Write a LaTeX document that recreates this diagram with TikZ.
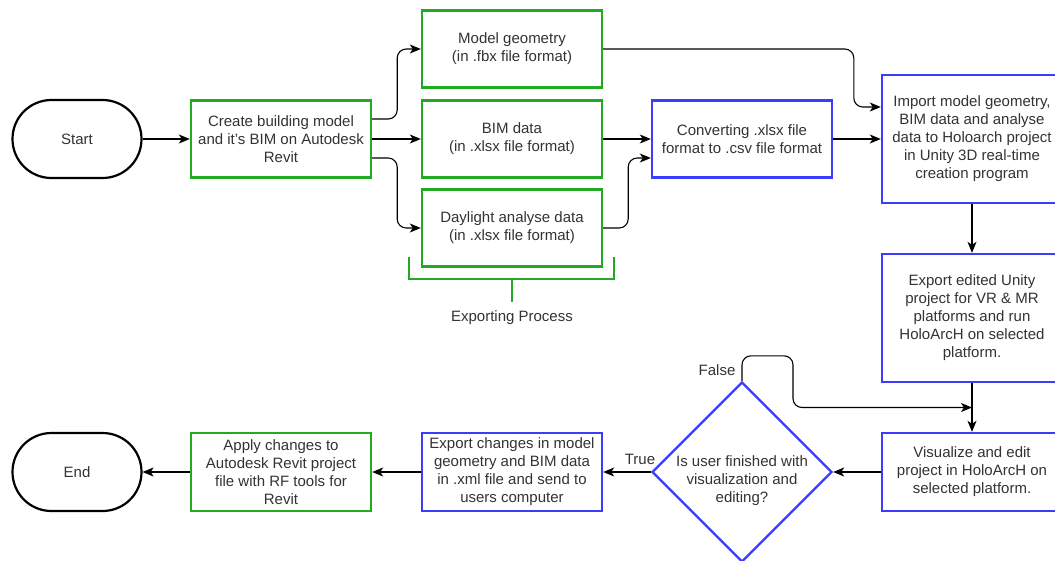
\documentclass[tikz,border=0pt]{standalone}
\usepackage{fontspec}
\setmainfont{Liberation Sans}
\usetikzlibrary{arrows.meta,shapes.geometric,calc}
\definecolor{boxgreen}{RGB}{34,170,34}
\definecolor{boxblue}{RGB}{60,60,255}
\definecolor{txt}{RGB}{51,51,51}
\tikzset{
  base/.style = {
    draw, line width=2.4pt, fill=white, align=center, text=txt,
    font=\fontsize{15}{18}\selectfont, inner sep=2pt
  },
  greenbox/.style = {base, draw=boxgreen, minimum width=180pt, minimum height=77pt},
  bluebox/.style = {base, draw=boxblue, minimum width=180pt, minimum height=77pt},
  terminal/.style = {base, draw=black, line width=2.2pt, minimum width=129pt,
    minimum height=78pt, rounded corners=38.9pt},
  decision/.style = {diamond, draw=boxblue, line width=2.4pt, fill=white,
    minimum width=180pt, minimum height=180pt, inner sep=0pt},
  flow/.style = {line width=1.1pt, -{Stealth[length=11pt,width=9pt,inset=3pt]},
    rounded corners=9pt},
  tag/.style = {text=txt, font=\fontsize{15}{18}\selectfont}
}

\begin{document}
\begin{tikzpicture}[x=1pt,y=-1pt]
  \useasboundingbox[fill=white] (0,0) rectangle (1055,560);

  % top row
  \node[terminal] (start) at (77,139) {Start};
  \node[greenbox] (create) at (281,139) {Create building model\\and it's BIM on Autodesk\\Revit};
  \node[greenbox] (geometry) at (512,49) {Model geometry\\(in .fbx file format)};
  \node[greenbox] (bimdata) at (512,139) {BIM data\\(in .xlsx file format)};
  \node[greenbox] (daylight) at (512,228) {Daylight analyse data\\(in .xlsx file format)};
  \node[bluebox] (convert) at (742,139) {Converting .xlsx file\\format to .csv file format};
  \node[bluebox, minimum height=128pt] (import) at (972,139)
    {Import model geometry,\\BIM data and analyse\\data to Holoarch project\\in Unity 3D real-time\\creation program};
  \node[bluebox, minimum height=128pt] (unityexp) at (972,318)
    {Export edited Unity\\project for VR \& MR\\platforms and run\\HoloArcH on selected\\platform.};

  % bottom row
  \node[bluebox, minimum height=78pt] (visualize) at (972,472)
    {Visualize and edit\\project in HoloArcH on\\selected platform.};
  \node[decision, label={[tag, align=center, yshift=-9pt]center:Is user finished with\\visualization and\\editing?}]
    (check) at (742,472) {};
  \node[bluebox, minimum height=78pt] (changes) at (512,472)
    {Export changes in model\\geometry and BIM data\\in .xml file and send to\\users computer};
  \node[greenbox, minimum height=78pt] (apply) at (281,472)
    {Apply changes to\\Autodesk Revit project\\file with RF tools for\\Revit};
  \node[terminal] (finish) at (77,472) {End};

  % exporting bracket
  \draw[boxgreen, line width=2.4pt] (409,257) -- (409,279) -- (614,279) -- (614,257)
    (512,279) -- (512,302);
  \node[tag] (exporting) at (512,318) {Exporting Process};

  \coordinate (merge) at ($(unityexp.south)!0.5!(visualize.north)$);

  \draw[flow] (start) -- (create);
  \draw[flow] ([yshift=20pt]create.east) -- ++(25,0) |- (geometry.west);
  \draw[flow] (create) -- (bimdata);
  \draw[flow] ([yshift=-19pt]create.east) -- ++(25,0) |- (daylight.west);
  \draw[flow] (geometry.east) -| ([xshift=-27pt,yshift=32pt]import.west) -- ([yshift=32pt]import.west);
  \draw[flow] (bimdata) -- (convert);
  \draw[flow] (daylight.east) -- ++(25,0) |- ([yshift=-19pt]convert.west);
  \draw[flow] (convert) -- (import);
  \draw[flow] (import) -- (unityexp);
  \draw[flow] (unityexp) -- (visualize);
  \draw[flow] (visualize) -- (check);
  \draw[flow] (check.north) -- ++(0,-25) -- ++(51,0) |- (merge);
  \draw[flow] (check) -- (changes);
  \draw[flow] (changes) -- (apply);
  \draw[flow] (apply) -- (finish);
  \node[tag] (falselbl) at (717,370) {False};
  \node[tag] (truelbl) at (640,459) {True};
\end{tikzpicture}
\end{document}
